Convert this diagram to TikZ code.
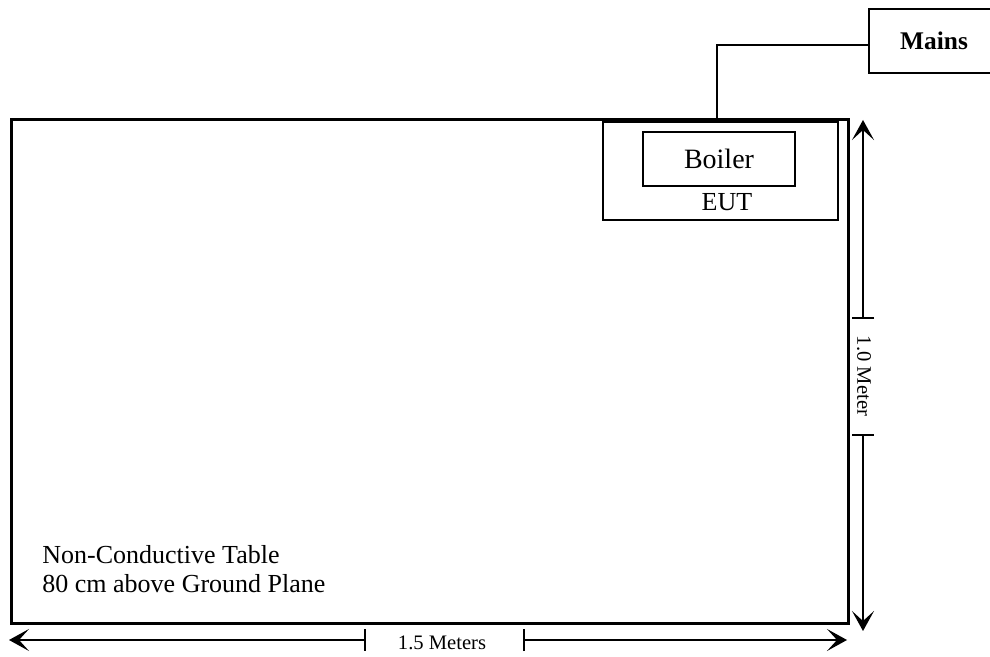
\documentclass[tikz,border=0pt]{standalone}
\usepackage{fontspec}
\setmainfont{Liberation Serif}
\usetikzlibrary{arrows.meta, positioning, calc}

\begin{document}
\begin{tikzpicture}[
    x=0.5pt, y=-0.5pt,
    box/.style={draw, inner sep=0pt, outer sep=0pt, anchor=north west},
    dimline/.style={line width=1pt,
      {Bar[width=11pt]}-{Stealth[length=10pt, width=11pt, inset=5pt]}},
    dimlabel/.style={font=\fontsize{10.3}{12}\selectfont, inner sep=0pt}
  ]
  \clip (0,0) rectangle (990,657);

  % table, EUT and supply
  \node[box, line width=1.5pt, minimum width=418.5pt,
        minimum height=251.5pt] (table) at (11,120) {};
  \node[box, line width=0.75pt, minimum width=117.5pt,
        minimum height=49pt] (eut) at (603,122) {};
  \node[box, line width=0.75pt, minimum width=76pt, minimum height=27pt,
        font=\fontsize{14}{16}\selectfont] (boiler) at (643,132) {Boiler};
  \node[inner sep=0pt, font=\fontsize{13}{15}\selectfont]
        (eutlbl) at (727,202) {EUT};
  \node[box, line width=1pt, minimum width=65pt, minimum height=32pt,
        font=\bfseries\fontsize{12.7}{15}\selectfont] (mains) at (869,9) {Mains};

  \node[inner sep=0pt, anchor=north west, align=left,
        font=\fontsize{13}{14.5}\selectfont] (tbllbl) at (42,545)
        {Non-Conductive Table\\80 cm above Ground Plane};

  % mains cable
  \coordinate (plug) at (717,121);
  \coordinate (bend) at (717,45);
  \draw[line width=1.4pt] (plug) -- (bend) -- (bend -| mains.west);

  % 1.5 m dimension
  \coordinate (lenA) at (366,640);
  \coordinate (lenB) at (523,640);
  \coordinate (lenL) at (9,640);
  \coordinate (lenR) at (847,640);
  \draw[dimline] (lenA) -- (lenL);
  \draw[dimline] (lenB) -- (lenR);
  \node[dimlabel] (lenlbl) at (442,643) {1.5 Meters};

  % 1.0 m dimension
  \coordinate (wdA) at (863,319);
  \coordinate (wdB) at (863,434);
  \coordinate (wdT) at (863,120);
  \coordinate (wdD) at (863,631);
  \draw[dimline] (wdA) -- (wdT);
  \draw[dimline] (wdB) -- (wdD);
  \node[dimlabel, rotate=-90] (wdlbl) at (864,376) {1.0 Meter};
\end{tikzpicture}
\end{document}
